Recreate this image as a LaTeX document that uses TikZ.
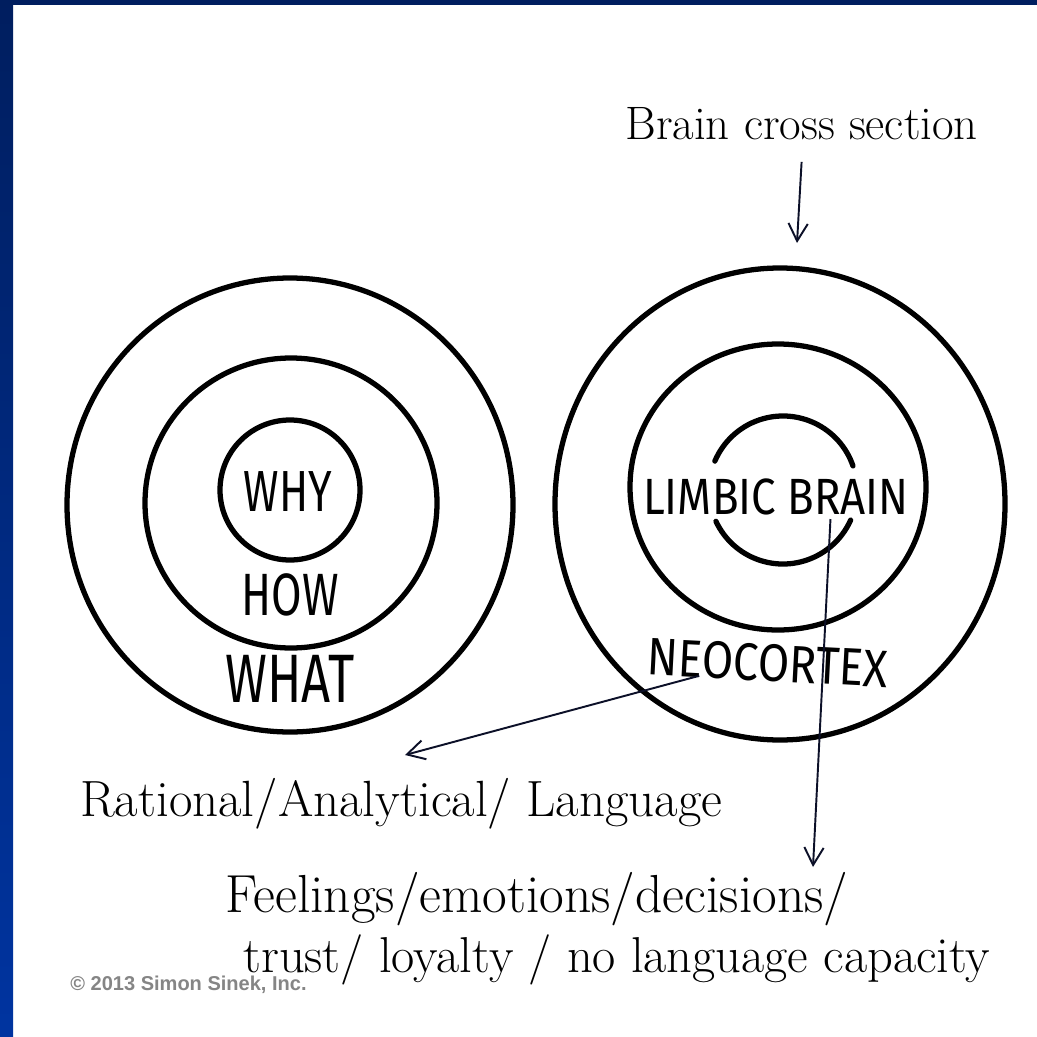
\documentclass[tikz,border=0pt]{standalone}
\usepackage{fontspec}
\usepackage{tikz}
\usetikzlibrary{arrows.meta}
\newfontfamily\handfont[FakeStretch=0.74]{Fira Sans}
\newfontfamily\widehandfont[FakeStretch=0.86]{Fira Sans}
\newfontfamily\copyfont{Liberation Sans}
\definecolor{slideblue}{RGB}{0,52,160}
\definecolor{slidenavy}{RGB}{0,30,95}
\definecolor{inkline}{RGB}{12,16,40}

\begin{document}
\begin{tikzpicture}[x=0.02cm, y=-0.02cm,
  ring/.style={line width=3pt, line cap=round},
  hand/.style={font=\handfont\fontsize{#1}{#1}\selectfont, inner sep=0pt},
  widehand/.style={font=\widehandfont\fontsize{#1}{#1}\selectfont, inner sep=0pt},
  serif/.style={font=\fontsize{#1}{#1}\selectfont, inner sep=0pt, anchor=base west},
  pointer/.style={draw=inkline, line width=1.1pt, -{Straight Barb[length=10pt,width=11pt]}}]
 % Frame
 \useasboundingbox (0,0) rectangle (1037,1037);
 \fill[white] (0,0) rectangle (1037,1037);
 \shade[top color=slidenavy, bottom color=slideblue] (0,0) rectangle (13,1037);
 \fill[slidenavy] (0,0) rectangle (1037,5);
 % Golden circle
 \draw[ring] (290,505) ellipse [x radius=223, y radius=227];
 \draw[ring] (291,503) ellipse [x radius=146, y radius=145];
 \draw[ring] (290,490) circle [radius=70];
 % Brain
 \draw[ring] (780,504) ellipse [x radius=225, y radius=236];
 \draw[ring] (778,487) ellipse [x radius=148, y radius=143];
 \coordinate (limbic c) at (783,490);
 \draw[ring] ([shift={(-19:74)}]limbic c) arc [start angle=-19, end angle=-157, radius=74];
 \draw[ring] ([shift={(-205:74)}]limbic c) arc [start angle=-205, end angle=-336, radius=74];
 % Nodes
 \node[hand=33] (why) at (288,492) {WHY};
 \node[hand=34] (how) at (290,595) {HOW};
 \node[hand=39] (what) at (290,679) {WHAT};
 \node[widehand=29] (limbic) at (776,497) {LIMBIC BRAIN};
 \node[widehand=30, rotate=-3] (neo) at (768,663) {NEOCORTEX};
 \node[serif=26.7] (cross) at (625,140) {Brain cross section};
 \node[serif=29] (rational) at (80,816) {Rational/Analytical/ Language};
 \node[serif=30.5] (feelings) at (225,912) {Feelings/emotions/decisions/};
 \node[serif=28.7] (loyalty) at (243,972) {trust/ loyalty / no language capacity};
 \node[font=\copyfont\bfseries\fontsize{11.4}{12}\selectfont, text=black!48,
   anchor=base west, inner sep=0pt] (copy) at (70,990) {© 2013 Simon Sinek, Inc.};
 \coordinate (brain tip) at (797,243);
 \coordinate (rational tip) at (405,755);
 \coordinate (feelings tip) at (813,867);
 % Arrows
 \draw[pointer] ([yshift=-12pt]cross.south) -- (brain tip);
 \draw[pointer] ([xshift=30pt]neo.south west) -- (rational tip);
 \draw[pointer] ([xshift=31pt,yshift=-2pt]limbic.south) -- (feelings tip);
\end{tikzpicture}
\end{document}
